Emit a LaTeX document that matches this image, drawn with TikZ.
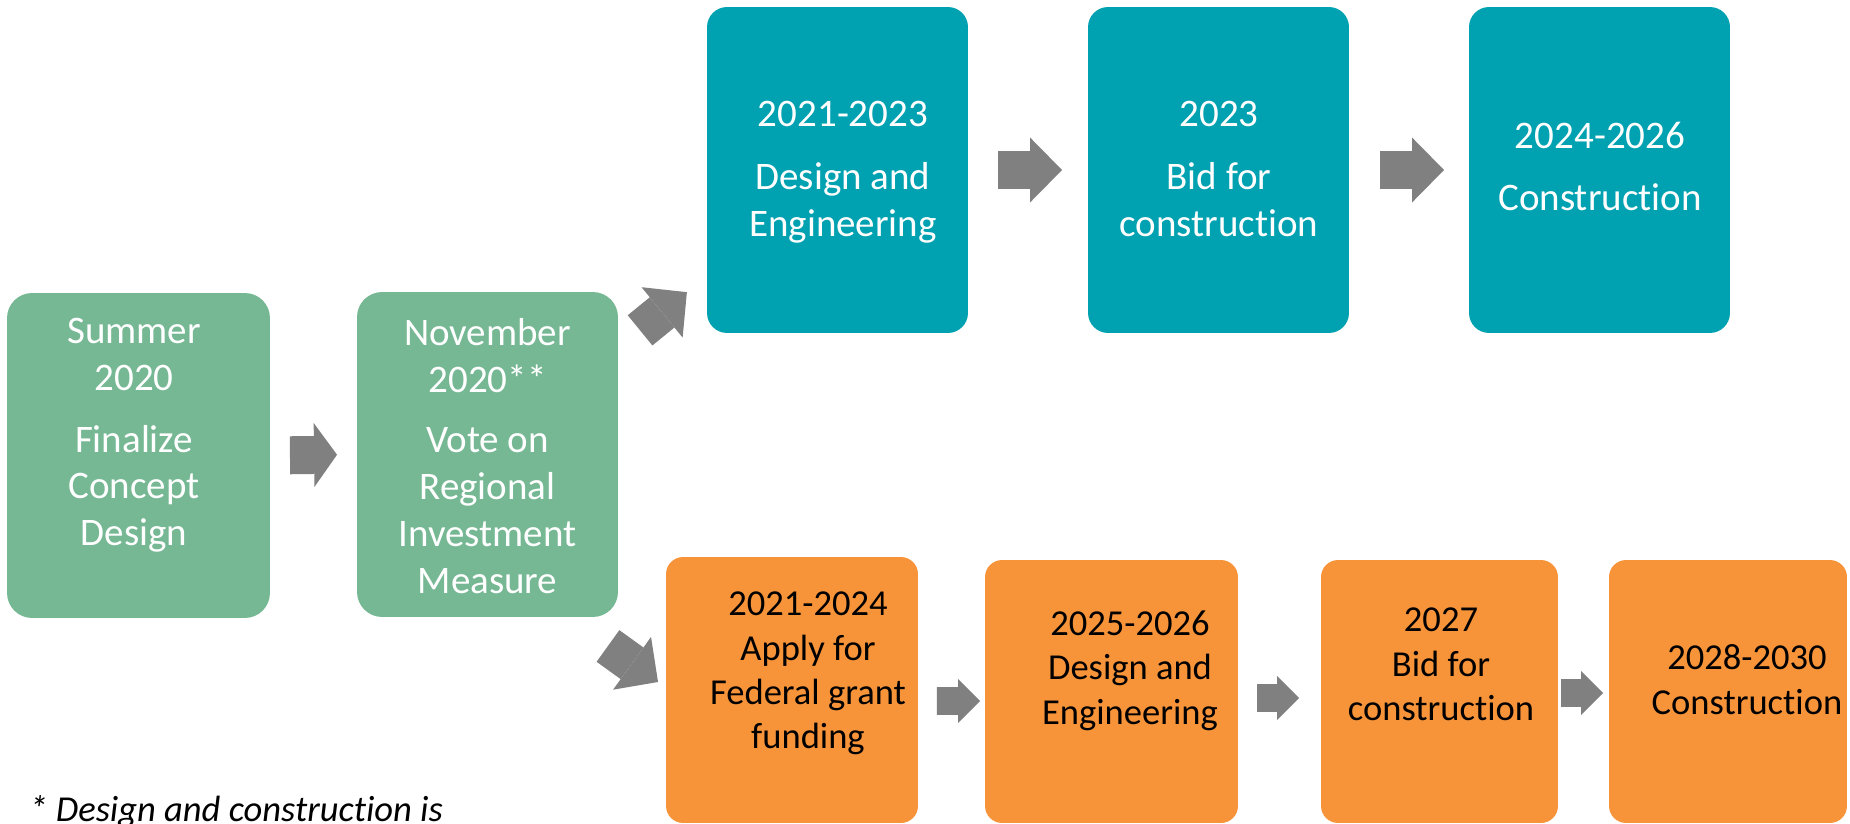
\documentclass[tikz,border=0pt]{standalone}
\usepackage{fontspec}
\setmainfont{Carlito}[Ligatures=NoCommon]
\usetikzlibrary{arrows.meta}
\usetikzlibrary{calc}

\definecolor{stepgreen}{RGB}{118,184,148}
\definecolor{stepteal}{RGB}{0,161,176}
\definecolor{steporange}{RGB}{247,148,58}
\definecolor{arrowgray}{RGB}{128,128,128}

\tikzset{
  box/.style={rectangle,draw=none,inner sep=0pt,outer sep=0pt},
  greenbox/.style={box,fill=stepgreen,rounded corners=0.5cm,minimum height=6.5cm},
  tealbox/.style={box,fill=stepteal,rounded corners=0.4cm,minimum width=5.22cm,minimum height=6.52cm},
  orangebox/.style={box,fill=steporange,rounded corners=0.34cm,minimum height=5.26cm},
  whitetext/.style={text=white,align=center,anchor=north,inner sep=0pt,font=\fontsize{22.2}{26.6}\selectfont},
  blacktext/.style={text=black,align=center,anchor=north,inner sep=0pt,font=\fontsize{20.8}{25.3}\selectfont},
  bigarrow/.style={draw=arrowgray,line width=0.78cm,-{Triangle[length=0.64cm,width=1.3cm,line width=0pt]}},
  midarrow/.style={draw=arrowgray,line width=0.76cm,-{Triangle[length=0.46cm,width=1.28cm,line width=0pt]}},
  smallarrow/.style={draw=arrowgray,line width=0.56cm,-{Triangle[length=0.44cm,width=0.88cm,line width=0pt]}}
}

\begin{document}
\begin{tikzpicture}[x=0.02cm,y=-0.02cm]
\useasboundingbox (0,0) rectangle (1850,824);

% first steps
\node[greenbox,minimum width=5.26cm] (summer) at (138.5,455.5) {};
\node[greenbox,minimum width=5.22cm] (vote) at (487.5,454.5) {};
\node[whitetext] (summertxt) at (134,318) {Summer\\2020\\[0.3cm]Finalize\\Concept\\Design};
\node[whitetext] (votetxt) at (487.5,318) {November\\2020**\\[0.28cm]Vote on\\Regional\\Investment\\Measure};

% upper track
\node[tealbox] (design) at (837.5,170) {};
\node[tealbox] (bid) at (1218.5,170) {};
\node[tealbox] (build) at (1599.5,170) {};
\node[whitetext] (designtxt) at (843,101) {2021-2023\\[0.32cm]Design and\\Engineering};
\node[whitetext] (bidtxt) at (1219,101) {2023\\[0.32cm]Bid for\\construction};
\node[whitetext] (buildtxt) at (1600,122) {2024-2026\\[0.3cm]Construction};

% lower track
\node[orangebox,minimum width=5.04cm,minimum height=5.32cm] (apply) at (792,690) {};
\node[orangebox,minimum width=5.06cm] (fdesign) at (1111.5,691.5) {};
\node[orangebox,minimum width=4.74cm] (fbid) at (1439.5,691.5) {};
\node[orangebox,minimum width=4.76cm] (fbuild) at (1728,691.5) {};
\node[blacktext] (applytxt) at (808,591.5) {2021-2024\\Apply for\\Federal grant\\funding};
\node[blacktext] (fdesigntxt) at (1130,610.5) {2025-2026\\Design and\\Engineering};
\node[blacktext] (fbidtxt) at (1441,607.5) {2027\\Bid for\\construction};
\node[blacktext] (fbuildtxt) at (1747,644.5) {2028-2030\\Construction};

\node[font=\itshape\fontsize{20.8}{25}\selectfont,anchor=base west,inner sep=0pt] (note) at (29,821) {* Design and construction is};

% arrows
\draw[midarrow,shorten <=0.4cm,shorten >=0.4cm] (summer.east) -- (vote.west);
\draw[bigarrow,shorten <=0.57cm,shorten >=0.52cm] (vote) -- (design);
\draw[bigarrow] ([shift={(-10,29)}]vote.south east) -- ([shift={(-8,-8)}]apply.west);
\draw[bigarrow,shorten <=0.6cm,shorten >=0.52cm] (design) -- (bid);
\draw[bigarrow,shorten <=0.62cm,shorten >=0.5cm] (bid) -- (build);
\draw[smallarrow,shorten <=0.38cm,shorten >=0.1cm] ([yshift=-0.22cm]apply.east) -- ([yshift=-0.19cm]fdesign.west);
\draw[smallarrow,shorten <=0.38cm,shorten >=0.44cm] ([yshift=-0.13cm]fdesign.east) -- ([yshift=-0.13cm]fbid.west);
\draw[smallarrow,shorten <=0.06cm,shorten >=0.12cm] ([yshift=-0.03cm]fbid.east) -- ([yshift=-0.03cm]fbuild.west);

\end{tikzpicture}
\end{document}
